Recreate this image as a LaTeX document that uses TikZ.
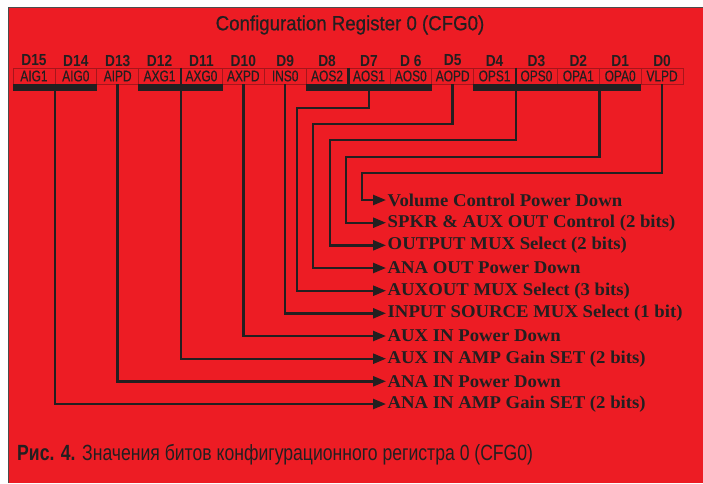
\documentclass[tikz,border=0pt]{standalone}
\usepackage{fontspec}
\setmainfont{Liberation Serif}
\setsansfont{Liberation Sans}
\newfontfamily\titlefont[FakeBold=0.6]{Liberation Sans}
\newfontfamily\cellfont[FakeBold=0.4]{Liberation Sans}
\usetikzlibrary{arrows.meta,calc}
\definecolor{bgred}{RGB}{237,28,36}
\definecolor{ink}{RGB}{35,31,32}
\definecolor{cellline}{RGB}{165,22,28}
\begin{document}
\begin{tikzpicture}[x=1pt,y=-1pt,
  cell/.style={draw=cellline, line width=0.7pt, minimum width=41.875pt, minimum height=16pt, inner sep=0pt, text=ink, font=\cellfont\fontsize{15.5}{15.5}\selectfont},
  bitlab/.style={inner sep=0pt, text=ink, font=\sffamily\bfseries\fontsize{16}{16}\selectfont},
  lab/.style={anchor=west, inner xsep=1.5pt, inner ysep=0pt, text=ink, font=\rmfamily\bfseries\fontsize{18}{18}\selectfont},
  lead/.style={draw=ink, line width=2.4pt},
  arr/.style={lead, -{Triangle[length=13pt,width=10pt]}},
  bar/.style={fill=ink}
]
\useasboundingbox (0,0) rectangle (703,483);
\fill[white] (0,0) rectangle (703,483);
\fill[bgred] (8,7) rectangle (703,483);
\draw[black!70, line width=0.8pt] (8,483) -- (8,7) -- (703,7);

\node[text=ink, font=\titlefont\fontsize{20.5}{20.5}\selectfont, inner sep=0pt] (title) at (350,25) {\scalebox{0.91}[1]{Configuration Register 0 (CFG0)}};

\foreach \t/\b [count=\i from 0] in {AIG1/D15,AIG0/D14,AIPD/D13,AXG1/D12,AXG0/D11,AXPD/D10,INS0/D9,AOS2/D8,AOS1/D7,AOS0/D 6,AOPD/D5,OPS1/D4,OPS0/D3,OPA1/D2,OPA0/D1,VLPD/D0} {
  \node[cell] (c\i) at ({13+41.875*(\i+0.5)},76) {\scalebox{0.77}[1]{\t}};
  \node[bitlab] (b\i) at ({13+41.875*(\i+0.5)},60.5) {\scalebox{0.86}[1]{\b}};
}

% bars
\fill[bar] (c0.south west) rectangle ($(c1.south east)+(0,7)$);
\fill[bar] (c3.south west) rectangle ($(c4.south east)+(0,7)$);
\fill[bar] (c7.south west) rectangle ($(c9.south east)+(0,7)$);
\fill[bar] (c11.south west) rectangle ($(c12.south east)+(0,7)$);
\fill[bar] (c13.south west) rectangle ($(c14.south east)+(0,7)$);
\draw[lead] (c7.north east) -- (c7.south east);

% labels
\node[lab] (l1) at (386,200) {\scalebox{1.04}[1]{Volume Control Power Down}};
\node[lab] (l2) at (386,222.7) {\scalebox{1.04}[1]{SPKR \& AUX OUT Control (2 bits)}};
\node[lab] (l3) at (386,245.3) {\scalebox{1.04}[1]{OUTPUT MUX Select (2 bits)}};
\node[lab] (l4) at (386,268) {\scalebox{1.04}[1]{ANA OUT Power Down}};
\node[lab] (l5) at (386,290.7) {\scalebox{1.04}[1]{AUXOUT MUX Select (3 bits)}};
\node[lab] (l6) at (386,313.3) {\scalebox{1.04}[1]{INPUT SOURCE MUX Select (1 bit)}};
\node[lab] (l7) at (386,336) {\scalebox{1.04}[1]{AUX IN Power Down}};
\node[lab] (l8) at (386,358.7) {\scalebox{1.04}[1]{AUX IN AMP Gain SET (2 bits)}};
\node[lab] (l9) at (386,381.3) {\scalebox{1.04}[1]{ANA IN Power Down}};
\node[lab] (l10) at (386,404) {\scalebox{1.04}[1]{ANA IN AMP Gain SET (2 bits)}};

% leaders
\draw[arr] ($(c0.south east)+(0,7)$) |- (l10.west);
\draw[arr] (c2.south) |- (l9.west);
\draw[arr] (c3.north east) |- (l8.west);
\draw[arr] (c5.south) |- (l7.west);
\draw[arr] (c6.south) |- (l6.west);
\draw[arr] ($(c8.south)+(0,7)$) |- (297,108) |- (l5.west);
\draw[arr] (c10.south) |- (313,124) |- (l4.west);
\draw[arr] (c11.north east) |- (330,140) |- (l3.west);
\draw[arr] ($(c13.south east)+(0,7)$) |- (346,157) |- (l2.west);
\draw[arr] (c15.south) |- (362,173) |- (l1.west);

\node[anchor=west, inner sep=0pt, text=ink, font=\sffamily\fontsize{22}{22}\selectfont] (cap) at (17,455) {\scalebox{0.8}[1]{\textbf{Рис. 4.} Значения битов конфигурационного регистра 0 (CFG0)}};
\end{tikzpicture}
\end{document}
